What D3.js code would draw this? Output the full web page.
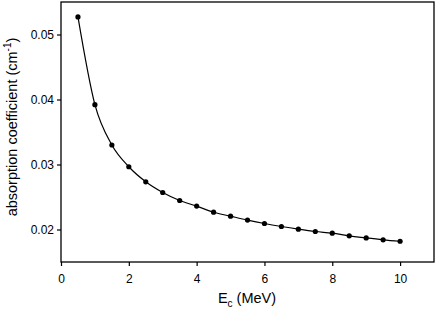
<!DOCTYPE html>
<html>
<head>
<meta charset="utf-8">
<script src="https://cdn.jsdelivr.net/npm/d3@7"></script>
<style>
  body { margin: 0; background: #fff; }
  text { font-family: "Liberation Sans", Arial, sans-serif; fill: #000; }
</style>
</head>
<body>
<svg id="chart"></svg>
<script>
// energies (MeV) and absorption coefficient (cm^-1)
var energy = [0.5, 1, 1.5, 2, 2.5, 3, 3.5, 4, 4.5, 5, 5.5, 6, 6.5, 7, 7.5, 8, 8.5, 9, 9.5, 10];
var coeff = [0.0527, 0.0392, 0.0330, 0.02965, 0.02734, 0.02569, 0.02446, 0.02360, 0.02266, 0.02205,
             0.02145, 0.02092, 0.02046, 0.02005, 0.01969, 0.01943, 0.01903, 0.01870, 0.01841, 0.01819];
var xTicks = [0, 2, 4, 6, 8, 10];
var yTicks = [0.02, 0.03, 0.04, 0.05];

var width = 436, height = 313;
var margin = {top: 2, right: 2, bottom: 51, left: 61};

var svg = d3.select('#chart')
    .attr('width', width)
    .attr('height', height);

var x = d3.scaleLinear().domain([0, 11]).range([margin.left, width - margin.right]);
var y = d3.scaleLinear().domain([0.015, 0.055]).range([height - margin.bottom, margin.top]);

// frame
svg.append('rect')
    .attr('x', x(0)).attr('y', y(0.055))
    .attr('width', x(11) - x(0)).attr('height', y(0.015) - y(0.055))
    .attr('fill', 'none').attr('stroke', '#000').attr('stroke-width', 1.3);

var xAxis = svg.append('g')
    .attr('transform', `translate(0, ${y(0.015)})`)
    .call(d3.axisBottom(x).tickValues(xTicks).tickSize(4).tickPadding(8).tickFormat(d3.format('d')));
var yAxis = svg.append('g')
    .attr('transform', `translate(${x(0)}, 0)`)
    .call(d3.axisLeft(y).tickValues(yTicks).tickSize(4).tickPadding(3).tickFormat(d3.format('.2f')));

[xAxis, yAxis].forEach(function(a){
    a.select('.domain').remove();
    a.selectAll('line').attr('stroke', '#000').attr('stroke-width', 1.2);
    a.selectAll('text').attr('font-size', '12px').attr('font-family', '"Liberation Sans", Arial, sans-serif');
});

var pts = energy.map(function(e, i){ return [e, coeff[i]]; });

var line = d3.line()
    .x(d => x(d[0]))
    .y(d => y(d[1]))
    .curve(d3.curveMonotoneX);

svg.append('path')
    .datum(pts)
    .attr('d', line)
    .attr('fill', 'none')
    .attr('stroke', '#000')
    .attr('stroke-width', 1.2);

svg.selectAll('circle.pt')
    .data(pts)
    .enter()
    .append('circle')
    .attr('class', 'pt')
    .attr('cx', d => x(d[0]))
    .attr('cy', d => y(d[1]))
    .attr('r', 2.6)
    .attr('fill', '#000');

// axis labels
var xl = svg.append('text')
    .attr('x', 247)
    .attr('y', 303)
    .attr('text-anchor', 'middle')
    .attr('font-size', '14.5px');
xl.append('tspan').text('E');
xl.append('tspan').attr('font-size', '10px').attr('dy', 4).text('c');
xl.append('tspan').attr('dy', -4).text(' (MeV)');

var yl = svg.append('text')
    .attr('transform', 'translate(17, 127) rotate(-90)')
    .attr('text-anchor', 'middle')
    .attr('font-size', '14.5px');
yl.append('tspan').text('absorption coefficient (cm');
yl.append('tspan').attr('font-size', '10px').attr('dy', -6).text('-1');
yl.append('tspan').attr('dy', 6).text(')');
</script>
</body>
</html>
